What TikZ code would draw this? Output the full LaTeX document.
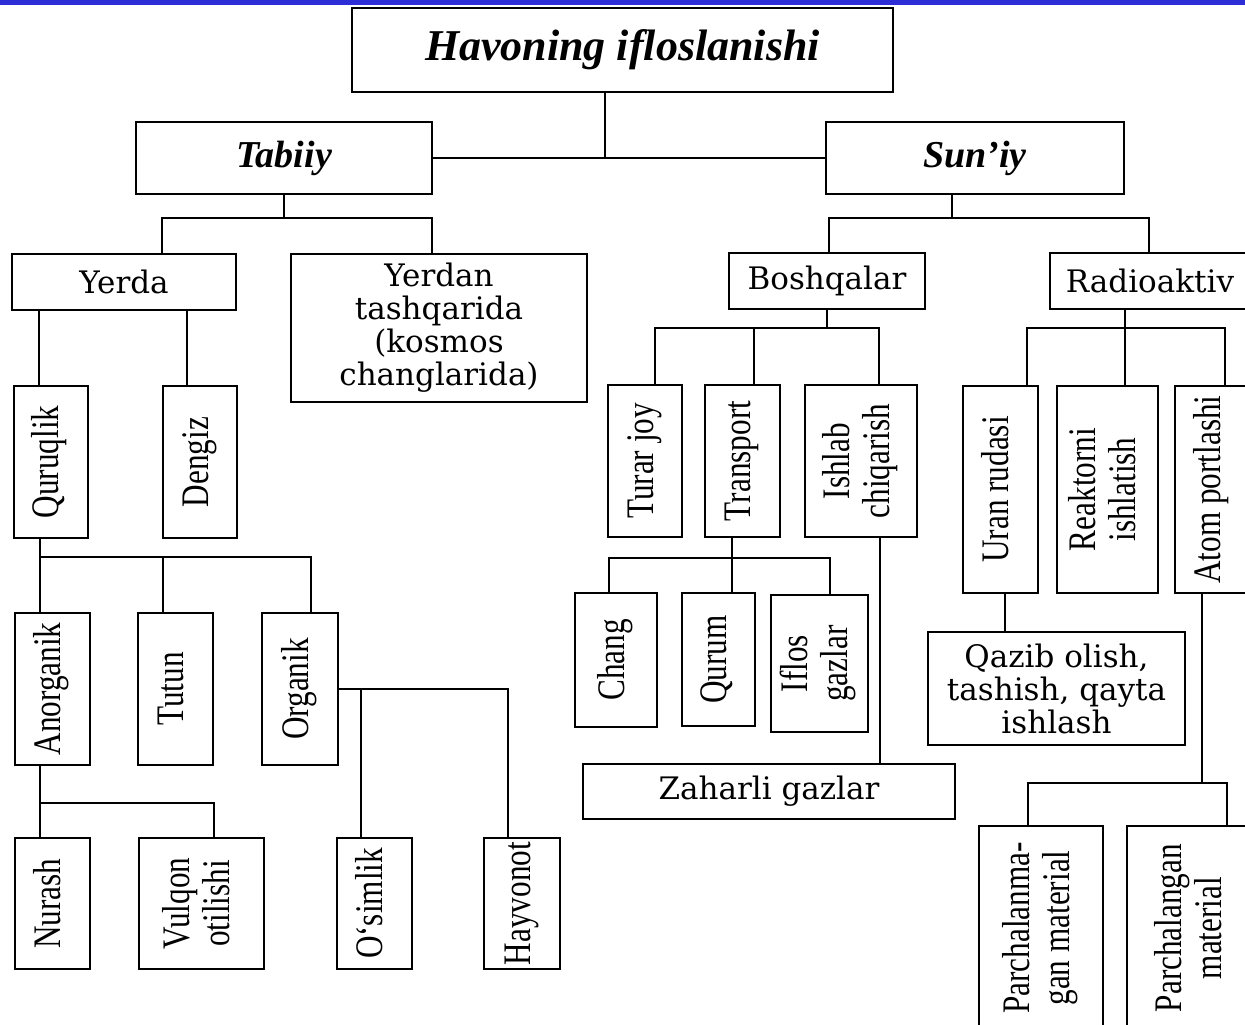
\documentclass[tikz,border=0pt]{standalone}
\usepackage{fontspec}
\usepackage{graphicx}
\setmainfont{Liberation Serif}
\newfontfamily\wideserif{DejaVu Serif}
\definecolor{bandblue}{RGB}{45,45,215}
% rotated (bottom to top) label, possibly on two lines
\newcommand{\vtext}[1]{\rotatebox{90}{\scalebox{0.8}[1]{\begin{tabular}{@{}c@{}}#1\end{tabular}}}}

\begin{document}
\begin{tikzpicture}[x=0.5pt, y=-0.5pt]

    % Styles
    \tikzset{
        box/.style={draw, line width=1.3pt, inner sep=0pt, align=center},
        sz/.style 2 args={minimum width=#1*0.5pt, minimum height=#2*0.5pt},
        titlefont/.style={font=\fontsize{22}{24}\selectfont\bfseries\itshape},
        headfont/.style={font=\fontsize{19}{22}\selectfont\bfseries\itshape},
        hfont/.style={font=\wideserif\fontsize{15.5}{16.5}\selectfont},
        vfont/.style={font=\fontsize{19.5}{20}\selectfont},
        link/.style={line width=1.3pt}
    }

    \useasboundingbox (0,0) rectangle (1245,1024);
    \clip (0,0) rectangle (1245,1024);
    \fill[white] (0,0) rectangle (1245,1024);
    \fill[bandblue] (0,0) rectangle (1245,5);

    % top levels
    \node[box, sz={541}{84}, titlefont] (title) at (622.5,50) {Havoning ifloslanishi};
    \node[box, sz={296}{72}, headfont] (tabiiy) at (284,158) {Tabiiy};
    \node[box, sz={298}{72}, headfont] (suniy) at (975,158) {Sun’iy};

    % natural side
    \node[box, sz={224}{56}, hfont] (yerda) at (124,282) {Yerda};
    \node[box, sz={296}{148}, hfont] (yerdan) at (439,328)
        {Yerdan\\tashqarida\\(kosmos\\changlarida)};
    \node[box, sz={74}{152}, vfont] (quruq) at (51,462) {\vtext{Quruqlik}};
    \node[box, sz={74}{152}, vfont] (dengiz) at (200,462) {\vtext{Dengiz}};
    \node[box, sz={75}{152}, vfont] (anorg) at (52.5,689) {\vtext{Anorganik}};
    \node[box, sz={75}{152}, vfont] (tutun) at (175.5,689) {\vtext{Tutun}};
    \node[box, sz={76}{152}, vfont] (organ) at (300,689) {\vtext{Organik}};
    \node[box, sz={75}{131}, vfont] (nurash) at (52.5,903.5) {\vtext{Nurash}};
    \node[box, sz={125}{131}, vfont] (vulq) at (201.5,903.5) {\vtext{Vulqon\\otilishi}};
    \node[box, sz={75}{131}, vfont] (osim) at (374.5,903.5) {\vtext{O‘simlik}};
    \node[box, sz={76}{131}, vfont] (hayv) at (522,903.5) {\vtext{Hayvonot}};

    % man-made side
    \node[box, sz={196}{56}, hfont] (boshq) at (827,281) {Boshqalar};
    \node[box, sz={200}{56}, hfont] (radio) at (1150,281) {Radioaktiv};
    \node[box, sz={74}{152}, vfont] (turar) at (645,461) {\vtext{Turar joy}};
    \node[box, sz={75}{152}, vfont] (transp) at (742.5,461) {\vtext{Transport}};
    \node[box, sz={112}{152}, vfont] (ishlab) at (861,461) {\vtext{Ishlab\\chiqarish}};
    \node[box, sz={75}{207}, vfont] (uran) at (1000.5,489.5) {\vtext{Uran rudasi}};
    \node[box, sz={101}{207}, vfont] (reakt) at (1107.5,489.5) {\vtext{Reaktorni\\ishlatish}};
    \node[box, sz={75}{207}, vfont] (atom) at (1212.5,489.5) {\vtext{Atom portlashi}};
    \node[box, sz={82}{134}, vfont] (chang) at (616,660) {\vtext{Chang}};
    \node[box, sz={73}{133}, vfont] (qurum) at (718.5,659.5) {\vtext{Qurum}};
    \node[box, sz={97}{137}, vfont] (iflos) at (819.5,663.5) {\vtext{Iflos\\gazlar}};
    \node[box, sz={372}{55}, hfont] (zahar) at (769,791.5) {Zaharli gazlar};
    \node[box, sz={257}{113}, hfont] (qazib) at (1056.5,688.5)
        {Qazib olish,\\tashish, qayta\\ishlash};
    \node[box, sz={124}{204}, vfont] (parch1) at (1041,928) {\vtext{Parchalanma-\\gan material}};
    \node[box, sz={133}{204}, vfont] (parch2) at (1193.5,928) {\vtext{Parchalangan\\material}};

    % title to Tabiiy / Sun'iy
    \coordinate (s0) at (605,158);
    \draw[link] (title.south -| s0) -- (s0);
    \draw[link] (tabiiy.east) -- (suniy.west);

    % Tabiiy to Yerda / Yerdan
    \coordinate (ta) at (162,218);
    \coordinate (tb) at (432,218);
    \draw[link] (tabiiy.south) -- (tabiiy.south |- ta);
    \draw[link] (yerda.north -| ta) -- (ta) -- (tb) -- (yerdan.north -| tb);

    % Sun'iy to Boshqalar / Radioaktiv
    \coordinate (sa) at (829,218);
    \coordinate (sb) at (1149,218);
    \coordinate (sc) at (952,218);
    \draw[link] (suniy.south -| sc) -- (sc);
    \draw[link] (boshq.north -| sa) -- (sa) -- (sb) -- (radio.north -| sb);

    % Yerda to Quruqlik / Dengiz
    \coordinate (ya) at (39,0);
    \coordinate (yb) at (187,0);
    \draw[link] (yerda.south -| ya) -- (quruq.north -| ya);
    \draw[link] (yerda.south -| yb) -- (dengiz.north -| yb);

    % Quruqlik to Anorganik / Tutun / Organik
    \coordinate (qa) at (40,557);
    \coordinate (qb) at (163,557);
    \coordinate (qc) at (311,557);
    \draw[link] (quruq.south -| qa) -- (anorg.north -| qa);
    \draw[link] (qa) -- (qc) -- (organ.north -| qc);
    \draw[link] (qb) -- (tutun.north -| qb);

    % Organik to O'simlik / Hayvonot
    \coordinate (oa) at (361,689);
    \coordinate (ob) at (508,689);
    \draw[link] (organ.east) -- (ob) -- (hayv.north -| ob);
    \draw[link] (oa) -- (osim.north -| oa);

    % Anorganik to Nurash / Vulqon
    \coordinate (aa) at (40,803);
    \coordinate (ab) at (214,803);
    \draw[link] (anorg.south -| aa) -- (nurash.north -| aa);
    \draw[link] (aa) -- (ab) -- (vulq.north -| ab);

    % Boshqalar to Turar joy / Transport / Ishlab
    \coordinate (ba) at (655,328);
    \coordinate (bb) at (754,328);
    \coordinate (bc) at (879,328);
    \draw[link] (boshq.south) -- (boshq.south |- ba);
    \draw[link] (turar.north -| ba) -- (ba) -- (bc) -- (ishlab.north -| bc);
    \draw[link] (bb) -- (transp.north -| bb);

    % Radioaktiv to Uran / Reaktor / Atom
    \coordinate (ra) at (1027,328);
    \coordinate (rb) at (1125,328);
    \coordinate (rc) at (1225,328);
    \draw[link] (radio.south -| rb) -- (reakt.north -| rb);
    \draw[link] (uran.north -| ra) -- (ra) -- (rc) -- (atom.north -| rc);

    % Transport to Chang / Qurum / Iflos gazlar
    \coordinate (pa) at (609,558);
    \coordinate (pb) at (732,558);
    \coordinate (pc) at (830,558);
    \draw[link] (transp.south -| pb) -- (qurum.north -| pb);
    \draw[link] (chang.north -| pa) -- (pa) -- (pc) -- (iflos.north -| pc);

    % Ishlab to Zaharli gazlar
    \coordinate (ia) at (880,0);
    \draw[link] (ishlab.south -| ia) -- (zahar.north -| ia);

    % Uran to Qazib
    \coordinate (ua) at (1005,0);
    \draw[link] (uran.south -| ua) -- (qazib.north -| ua);

    % Atom to both materials
    \coordinate (xa) at (1028,783);
    \coordinate (xb) at (1227,783);
    \coordinate (xc) at (1202,783);
    \draw[link] (atom.south -| xc) -- (xc);
    \draw[link] (parch1.north -| xa) -- (xa) -- (xb) -- (parch2.north -| xb);

\end{tikzpicture}
\end{document}
